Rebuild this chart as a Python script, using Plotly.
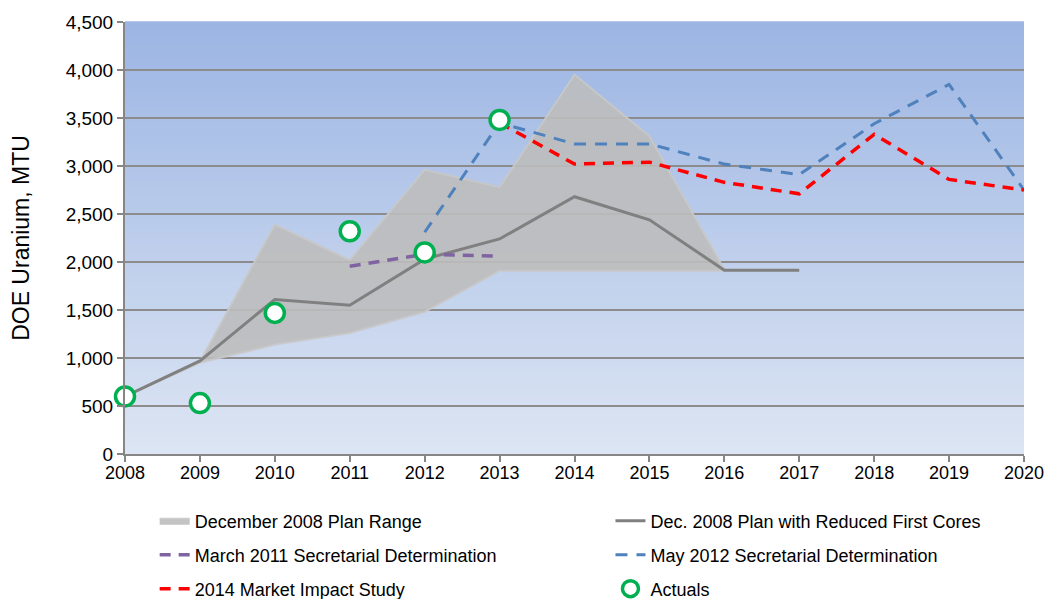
import plotly.graph_objects as go

years = list(range(2008, 2021))

band_years = [2008, 2009, 2010, 2011, 2012, 2013, 2014, 2015, 2016]
band_upper = [600, 960, 2390, 2020, 2960, 2780, 3950, 3310, 1920]
band_lower = [600, 950, 1140, 1260, 1480, 1910, 1910, 1910, 1910]

plan_years = [2008, 2009, 2010, 2011, 2012, 2013, 2014, 2015, 2016, 2017]
plan_vals = [600, 970, 1610, 1550, 2030, 2240, 2680, 2440, 1915, 1915]

mar2011_years = [2011, 2012, 2013]
mar2011_vals = [1955, 2080, 2060]

may2012_years = [2012, 2013, 2014, 2015, 2016, 2017, 2018, 2019, 2020]
may2012_vals = [2310, 3450, 3230, 3230, 3020, 2910, 3440, 3850, 2750]

mis2014_years = [2013, 2014, 2015, 2016, 2017, 2018, 2019, 2020]
mis2014_vals = [3450, 3020, 3040, 2830, 2710, 3330, 2860, 2750]

actual_years = [2008, 2009, 2010, 2011, 2012, 2013]
actual_vals = [600, 530, 1470, 2320, 2100, 3480]

yticks = [0, 500, 1000, 1500, 2000, 2500, 3000, 3500, 4000, 4500]
ytick_text = ["0", "500", "1,000", "1,500", "2,000", "2,500", "3,000", "3,500", "4,000", "4,500"]

FONT = "Liberation Sans, Arial, sans-serif"
LFONT = "Liberation Sans Narrow, Liberation Sans, Arial, sans-serif"

fig = go.Figure()

fig.add_trace(go.Scatter(
    x=band_years + band_years[::-1], y=band_upper + band_lower[::-1],
    fill="toself", fillcolor="rgba(189,189,189,0.9)",
    line=dict(color="rgba(200,200,200,0.9)", width=2),
    mode="lines", name="December 2008 Plan Range", legend="legend", hoverinfo="skip"))

fig.add_trace(go.Scatter(
    x=plan_years, y=plan_vals, mode="lines",
    line=dict(color="#808080", width=3),
    name="Dec. 2008 Plan with Reduced First Cores", legend="legend2"))

fig.add_trace(go.Scatter(
    x=mar2011_years, y=mar2011_vals, mode="lines",
    line=dict(color="#8064A2", width=3.5, dash="11px,8px"),
    name="March 2011 Secretarial Determination", legend="legend3"))

fig.add_trace(go.Scatter(
    x=may2012_years, y=may2012_vals, mode="lines",
    line=dict(color="#4F81BD", width=3, dash="12px,9px"),
    name="May 2012 Secretarial Determination", legend="legend4"))

fig.add_trace(go.Scatter(
    x=mis2014_years, y=mis2014_vals, mode="lines",
    line=dict(color="#FF0000", width=3.5, dash="11px,8px"),
    name="2014 Market Impact Study", legend="legend5"))

fig.add_trace(go.Scatter(
    x=actual_years, y=actual_vals, mode="markers", cliponaxis=False,
    marker=dict(symbol="circle", size=19, color="white",
                line=dict(color="#00B050", width=3.5)),
    name="Actuals", legend="legend6"))

# vertical gradient background
n = 60
top = (155, 181, 227)
bot = (221, 229, 243)
shapes = []
for i in range(n):
    t = (i + 0.5) / n
    c = tuple(round(bot[k] + (top[k] - bot[k]) * t) for k in range(3))
    shapes.append(dict(type="rect", xref="x domain", yref="y domain",
                       x0=0, x1=1, y0=i / n, y1=(i + 1) / n + 0.002,
                       fillcolor="rgb(%d,%d,%d)" % c, line=dict(width=0),
                       layer="below"))

leg_common = dict(orientation="h", xanchor="left", yanchor="middle",
                  font=dict(family=LFONT, size=18, color="#000000"),
                  bgcolor="rgba(0,0,0,0)", itemwidth=30)

col1, col2 = 0.033, 0.540
row1, row2, row3 = -0.155, -0.234, -0.3125

fig.update_layout(
    width=1049, height=599,
    margin=dict(l=125, r=25, t=22, b=145, autoexpand=False),
    paper_bgcolor="white", plot_bgcolor="rgba(0,0,0,0)",
    shapes=shapes,
    showlegend=True,
    legend=dict(**leg_common, x=col1, y=row1),
    legend2=dict(**leg_common, x=col2, y=row1),
    legend3=dict(**leg_common, x=col1, y=row2),
    legend4=dict(**leg_common, x=col2, y=row2),
    legend5=dict(**leg_common, x=col1, y=row3),
    legend6=dict(**leg_common, x=col2, y=row3),
    xaxis=dict(range=[2008, 2020], tickmode="array", tickvals=years,
               ticktext=[str(y) for y in years],
               showgrid=False, zeroline=False, showline=True,
               linecolor="#868686", linewidth=2, ticks="outside",
               tickcolor="#868686", ticklen=6, tickwidth=1.5,
               ticklabelstandoff=-5,
               tickfont=dict(family=FONT, size=18, color="#000000")),
    yaxis=dict(range=[0, 4500], tickmode="array", tickvals=yticks,
               ticktext=ytick_text, showgrid=True, gridcolor="#8C8C8C",
               gridwidth=2, zeroline=False, showline=True,
               linecolor="#868686", linewidth=2, ticks="outside",
               tickcolor="#868686", ticklen=6, tickwidth=1.5,
               tickfont=dict(family=FONT, size=19, color="#000000"),
               title=dict(text="DOE Uranium, MTU",
                          font=dict(family=FONT, size=23, color="#000000"),
                          standoff=30)),
)

fig.write_html("out.html",
               config={"displayModeBar": False},
               post_script="document.body.style.margin='0px';"
                           "document.body.style.overflow='hidden';")
